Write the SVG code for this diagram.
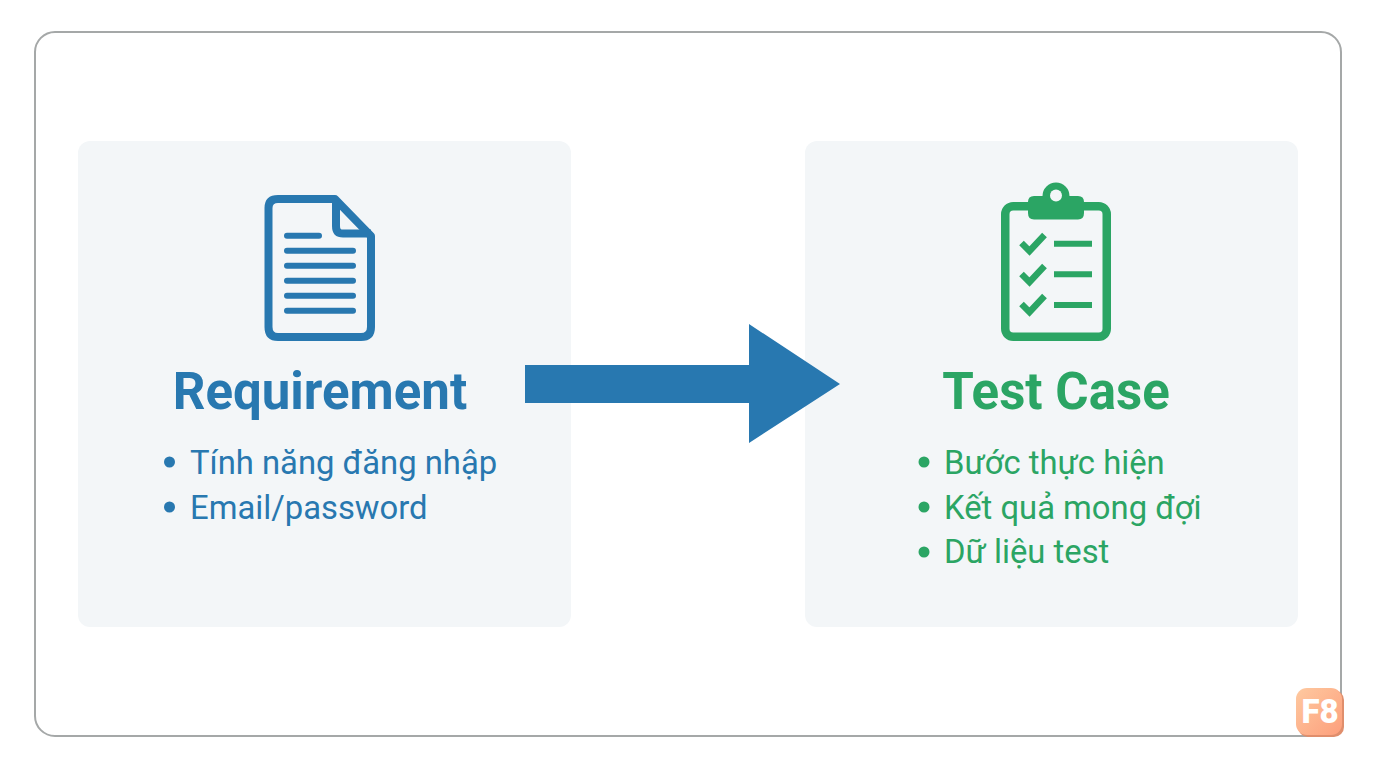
<svg xmlns="http://www.w3.org/2000/svg" width="1376" height="768" viewBox="0 0 1376 768">
<defs>
<linearGradient id="f8g" x1="0" y1="0" x2="1" y2="1"><stop offset="0" stop-color="#fec9a0"/><stop offset="1" stop-color="#fd9f7c"/></linearGradient>
</defs>
<style>
text{font-family:Roboto,"Noto Sans",sans-serif}
.panel{fill:#f3f6f8}
.title{font-size:51px;font-weight:700;text-anchor:middle}
.item{font-size:32.8px}
.blue{fill:#2878b0}
.green{fill:#2ba564}
.bs{fill:none;stroke:#2878b0;stroke-width:8;stroke-linejoin:round}
.bl{stroke:#2878b0;stroke-width:6;stroke-linecap:round}
.gs{fill:none;stroke:#2ba564;stroke-width:8.500;stroke-linejoin:round}
.gl{stroke:#2ba564;stroke-width:6}
.ck{fill:none;stroke:#2ba564;stroke-width:6.500}
</style>
<rect width="1376" height="768" fill="#fff"/>
<rect x="35" y="32" width="1306" height="704" rx="20" fill="#fff" stroke="#a5a8a8" stroke-width="2"/>
<g id="requirement">
<rect class="panel" x="78" y="141" width="493" height="486" rx="12"/>
<g id="doc-icon">
<path class="bs" d="M278 199H335L371 236V327Q371 337 361 337H278Q268.500 337 268.500 327V208Q268.500 199 278 199Z"/>
<path class="bs" d="M336 199V226Q336 233.500 343 233.500H371"/>
<path class="bl" d="M287 235.700H319M287 250.700H353M287 265.700H353M287 280.700H353M287 295.700H353M287 310.700H353"/>
</g>
<text class="title blue" x="320" y="409">Requirement</text>
<circle class="blue" cx="169.500" cy="462" r="5.500"/>
<text class="item blue" x="190" y="473.600">Tính năng đăng nhập</text>
<circle class="blue" cx="169.500" cy="507" r="5.500"/>
<text class="item blue" x="190" y="518.600">Email/password</text>
</g>
<g id="testcase">
<rect class="panel" x="805" y="141" width="493" height="486" rx="12"/>
<g id="clipboard-icon">
<rect class="gs" x="1005.250" y="206.250" width="101.500" height="130.500" rx="8"/>
<path class="green" d="M1034 196H1042.500A13.500 13.500 0 0 1 1069.500 196H1078Q1084 196 1084 202V213Q1084 219.500 1078 219.500H1034Q1028 219.500 1028 213V202Q1028 196 1034 196Z"/>
<circle cx="1056" cy="195.500" r="6" fill="#f3f6f8"/>
<path class="ck" d="M1021.500 243L1029.500 251L1044.500 235M1021.500 274L1029.500 282L1044.500 266M1021.500 304L1029.500 312L1044.500 296"/>
<path class="gl" d="M1054 243.700H1092M1054 274.300H1092M1054 305H1092"/>
</g>
<text class="title green" x="1056" y="409">Test Case</text>
<circle class="green" cx="924" cy="462" r="5.500"/>
<text class="item green" x="944" y="473.600">Bước thực hiện</text>
<circle class="green" cx="924" cy="507" r="5.500"/>
<text class="item green" x="944" y="518.600">Kết quả mong đợi</text>
<circle class="green" cx="924" cy="552" r="5.500"/>
<text class="item green" x="944" y="562.600">Dữ liệu test</text>
</g>
<g id="connectors">
<path class="blue" d="M525 365H749V324L840 384L749 443V403H525Z"/>
</g>
<g id="f8-badge">
<rect x="1298" y="690" width="46" height="47" rx="10" fill="#e08e6c"/>
<rect x="1296" y="688" width="46" height="47" rx="11" fill="url(#f8g)"/>
<text x="1320" y="723" font-size="33" font-weight="900" fill="#fff" text-anchor="middle">F8</text>
</g>
</svg>
